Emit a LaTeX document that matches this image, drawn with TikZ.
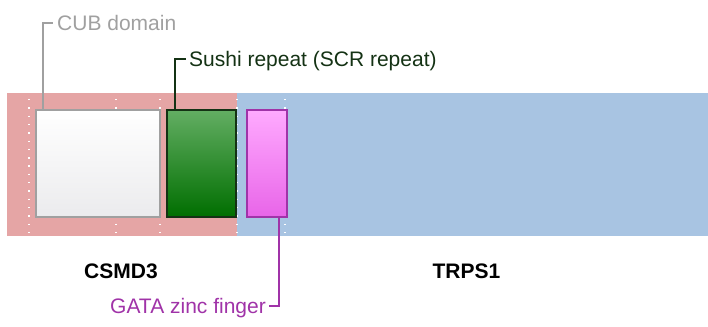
\documentclass[tikz,border=0pt]{standalone}
\usepackage{fontspec}
\setmainfont{Liberation Sans}
\usetikzlibrary{positioning}
\definecolor{csmdred}{HTML}{E5A5A5}
\definecolor{trpsblue}{HTML}{A8C4E2}
\definecolor{cubgray}{HTML}{A0A0A0}
\definecolor{cubbot}{HTML}{EBEBED}
\definecolor{sushiline}{HTML}{143214}
\definecolor{sushitop}{HTML}{63AE63}
\definecolor{sushibot}{HTML}{006E00}
\definecolor{gataline}{HTML}{A033A8}
\definecolor{gatatop}{HTML}{FFAAFF}
\definecolor{gatabot}{HTML}{E865E8}
\begin{document}
\begin{tikzpicture}[x=1pt,y=-1pt,
 band/.style={draw=none,inner sep=0,outer sep=0,anchor=north west,minimum height=143pt},
 dom/.style={inner sep=0,outer sep=0,anchor=north west,minimum height=107pt,line width=1.5pt},
 lbl/.style={inner sep=0,font=\fontsize{21}{24}\selectfont,text height=15pt,text depth=0pt},
 gene/.style={inner sep=0,font=\fontsize{21}{24}\selectfont\bfseries,anchor=base},
 dots/.style={white,line width=1.4pt,dash pattern=on 1.4pt off 6.9pt},
 c/.style={line width=1.5pt}]
\useasboundingbox (0,0) rectangle (708,326);
\node[band,fill=csmdred,minimum width=230pt] (csmd) at (7,93) {};
\node[band,fill=trpsblue,minimum width=471pt] (trps) at (237,93) {};
\foreach \gx in {29,116,160,237,285}
  \draw[dots] (\gx,99) -- (\gx,236);
\node[dom,draw=cubgray,top color=white,middle color=white!97!cubbot,bottom color=cubbot,minimum width=124pt] (cub) at (36,110) {};
\node[dom,draw=sushiline,top color=sushitop,bottom color=sushibot,minimum width=69pt] (sushi) at (167,110) {};
\node[dom,draw=gataline,top color=gatatop,bottom color=gatabot,minimum width=40pt] (gata) at (247,110) {};
\node[lbl,anchor=west,text=cubgray] (cublbl) at (57,23) {CUB domain};
\node[lbl,anchor=west,text=sushiline] (sushilbl) at (189,59) {Sushi repeat (SCR repeat)};
\node[lbl,anchor=east,text=gataline] (gatalbl) at (266,306) {GATA zinc finger};
\draw[c,cubgray] ([xshift=7pt]cub.north west) |- ([xshift=-4pt]cublbl.west);
\draw[c,sushiline] ([xshift=8pt]sushi.north west) |- ([xshift=-3pt]sushilbl.west);
\draw[c,gataline] ([xshift=-8pt]gata.south east) |- ([xshift=3pt]gatalbl.east);
\node[gene] (csmdlbl) at (121,278.5) {CSMD3};
\node[gene] (trpslbl) at (466.5,278.5) {TRPS1};
\end{tikzpicture}
\end{document}
